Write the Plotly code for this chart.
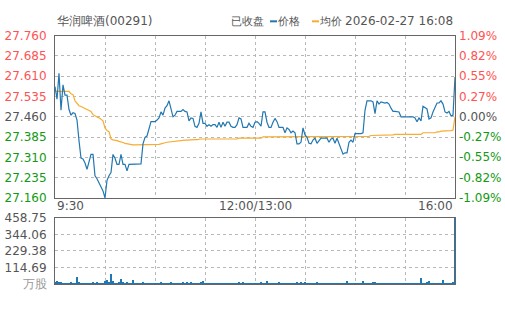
import plotly.graph_objects as go

# ---------------- data ----------------
title_text = "华润啤酒(00291)"
status_text = "已收盘"
price_name = "价格"
avg_name = "均价"
timestamp = "2026-02-27 16:08"
volume_unit = "万股"

prev_close = 27.46
price_ticks = [27.160, 27.235, 27.310, 27.385, 27.460, 27.535, 27.610, 27.685, 27.760]
volume_max = 458.75
x_tick_labels = ["9:30", "12:00/13:00", "16:00"]

prices = [
    27.572, 27.525, 27.621, 27.484, 27.578, 27.540, 27.540, 27.487, 27.466, 27.475,
    27.472, 27.448, 27.372, 27.307, 27.304, 27.289, 27.266, 27.295, 27.321, 27.321,
    27.242, 27.231, 27.216, 27.207, 27.186, 27.160, 27.225, 27.242, 27.254, 27.321,
    27.307, 27.284, 27.284, 27.321, 27.284, 27.284, 27.260, 27.284, 27.284, 27.284,
    27.284, 27.284, 27.284, 27.286, 27.360, 27.384, 27.389, 27.419, 27.442, 27.442,
    27.442, 27.448, 27.456, 27.478, 27.466, 27.492, 27.501, 27.519, 27.484, 27.460,
    27.466, 27.480, 27.480, 27.480, 27.487, 27.480, 27.478, 27.445, 27.456, 27.454,
    27.425, 27.421, 27.436, 27.478, 27.436, 27.436, 27.425, 27.431, 27.425, 27.431,
    27.431, 27.421, 27.440, 27.421, 27.440, 27.425, 27.440, 27.440, 27.425, 27.421,
    27.421, 27.431, 27.456, 27.452, 27.421, 27.421, 27.421, 27.436, 27.425, 27.421,
    27.440, 27.442, 27.436, 27.425, 27.478, 27.478, 27.440, 27.421, 27.421, 27.440,
    27.454, 27.442, 27.421, 27.421, 27.421, 27.401, 27.419, 27.413, 27.401, 27.407,
    27.401, 27.360, 27.360, 27.366, 27.419, 27.393, 27.384, 27.362, 27.360, 27.374,
    27.381, 27.362, 27.372, 27.381, 27.381, 27.381, 27.381, 27.366, 27.378, 27.381,
    27.362, 27.381, 27.360, 27.339, 27.322, 27.327, 27.327, 27.366, 27.374, 27.366,
    27.398, 27.398, 27.398, 27.398, 27.401, 27.484, 27.519, 27.519, 27.519, 27.515,
    27.472, 27.519, 27.507, 27.515, 27.513, 27.511, 27.513, 27.507, 27.492, 27.480,
    27.480, 27.480, 27.478, 27.460, 27.460, 27.460, 27.460, 27.460, 27.460, 27.460,
    27.456, 27.442, 27.456, 27.445, 27.499, 27.495, 27.489, 27.452, 27.456, 27.478,
    27.492, 27.511, 27.511, 27.519, 27.507, 27.478, 27.474, 27.480, 27.464, 27.466,
    27.607,
]

avg_prices = [
    27.554, 27.554, 27.554, 27.554, 27.554, 27.554, 27.554, 27.554, 27.545, 27.542,
    27.519, 27.509, 27.501, 27.498, 27.494, 27.491, 27.487, 27.484, 27.480, 27.468,
    27.462, 27.459, 27.456, 27.451, 27.445, 27.419, 27.409, 27.405, 27.378, 27.375,
    27.374, 27.372, 27.369, 27.368, 27.365, 27.362, 27.360, 27.359, 27.358, 27.356,
    27.356, 27.356, 27.356, 27.356, 27.356, 27.356, 27.356, 27.356, 27.356, 27.356,
    27.358, 27.358, 27.358, 27.360, 27.361, 27.364, 27.366, 27.367, 27.368, 27.369,
    27.371, 27.372, 27.373, 27.373, 27.374, 27.374, 27.374, 27.375, 27.375, 27.376,
    27.376, 27.376, 27.378, 27.378, 27.378, 27.378, 27.378, 27.378, 27.378, 27.378,
    27.378, 27.378, 27.378, 27.378, 27.378, 27.378, 27.378, 27.378, 27.378, 27.378,
    27.378, 27.378, 27.381, 27.381, 27.381, 27.381, 27.381, 27.381, 27.381, 27.381,
    27.381, 27.381, 27.381, 27.381, 27.386, 27.386, 27.386, 27.386, 27.386, 27.386,
    27.386, 27.386, 27.386, 27.388, 27.388, 27.388, 27.388, 27.388, 27.388, 27.388,
    27.388, 27.388, 27.388, 27.388, 27.388, 27.388, 27.388, 27.388, 27.388, 27.388,
    27.388, 27.388, 27.388, 27.388, 27.388, 27.388, 27.388, 27.388, 27.388, 27.388,
    27.388, 27.388, 27.388, 27.388, 27.388, 27.388, 27.388, 27.388, 27.388, 27.388,
    27.388, 27.388, 27.388, 27.388, 27.388, 27.388, 27.388, 27.388, 27.391, 27.391,
    27.391, 27.391, 27.393, 27.393, 27.393, 27.393, 27.393, 27.393, 27.393, 27.393,
    27.395, 27.395, 27.395, 27.395, 27.395, 27.395, 27.395, 27.395, 27.395, 27.395,
    27.395, 27.395, 27.395, 27.395, 27.401, 27.401, 27.401, 27.401, 27.401, 27.401,
    27.401, 27.404, 27.404, 27.407, 27.407, 27.407, 27.407, 27.407, 27.409, 27.411,
    27.460,
]

volumes = [
    15, 20, 14, 8, 5, 4, 6, 5, 10, 4,
    5, 50, 12, 6, 5, 4, 6, 5, 4, 14,
    5, 12, 5, 4, 6, 18, 26, 8, 66, 18,
    6, 5, 8, 33, 16, 5, 14, 5, 4, 24,
    5, 4, 5, 4, 12, 5, 4, 4, 5, 4,
    4, 5, 4, 10, 4, 4, 5, 4, 11, 4,
    4, 5, 4, 4, 10, 4, 9, 4, 10, 4,
    3, 4, 4, 16, 18, 4, 3, 3, 4, 3,
    3, 3, 4, 3, 3, 4, 3, 3, 3, 4,
    3, 3, 11, 4, 9, 3, 3, 3, 4, 3,
    3, 3, 4, 16, 3, 3, 22, 4, 3, 3,
    3, 3, 10, 3, 3, 3, 4, 3, 3, 3,
    3, 10, 3, 11, 3, 9, 3, 3, 3, 3,
    4, 10, 3, 3, 3, 4, 3, 3, 3, 3,
    4, 3, 3, 3, 3, 3, 22, 4, 3, 3,
    3, 3, 3, 3, 22, 4, 3, 3, 3, 12,
    16, 5, 3, 3, 4, 3, 3, 3, 4, 3,
    3, 3, 4, 3, 3, 3, 4, 3, 3, 3,
    3, 3, 4, 44, 5, 4, 12, 20, 4, 3,
    3, 4, 3, 3, 30, 4, 3, 3, 6, 10,
    458.75,
]

# ---------------- styling ----------------
W, H = 505, 310
FONT = "DejaVu Sans"
RED = "#ff5252"
GREEN = "#129a12"
GRAY = "#555555"
BLUE = "#2277b0"
ORANGE = "#f8ac30"
FRAME = "#666666"
GRID = "#b8b8b8"

n = len(prices)
x = list(range(n))
grid_x = [i * (n - 1) / 8 for i in range(9)]


def color_for(p):
    if abs(p - prev_close) < 1e-9:
        return GRAY
    return RED if p > prev_close else GREEN


left_text = [f"<span style='color:{color_for(p)}'>{p:.3f}</span>" for p in price_ticks]
pct_text = [f"{(p - prev_close) / prev_close * 100:.2f}%" for p in price_ticks]

vol_ticks = [volume_max * k / 4 for k in range(5)]
vol_text = [f"<span style='color:#999999'>{volume_unit}</span>"] + [f"{v:.2f}" for v in vol_ticks[1:]]

px_l, px_r = 55, 455
main_top, main_bot = 30, 200
vol_top, vol_bot = 221, 290
xdom = [px_l / W, px_r / W]

fig = go.Figure()
fig.add_trace(go.Scatter(x=x, y=avg_prices, mode="lines", line=dict(color=ORANGE, width=1.2),
                         xaxis="x", yaxis="y", showlegend=False))
fig.add_trace(go.Scatter(x=x, y=prices, mode="lines", line=dict(color=BLUE, width=1.2),
                         xaxis="x", yaxis="y", showlegend=False))
fig.add_trace(go.Bar(x=x, y=volumes, marker=dict(color=BLUE, line=dict(width=0)), width=0.7,
                     xaxis="x2", yaxis="y2", showlegend=False))

common_x = dict(range=[0, n - 1], tickvals=grid_x, showticklabels=False, ticks="",
                showgrid=True, gridcolor=GRID, griddash="dot", gridwidth=1,
                showline=True, linecolor=FRAME, linewidth=1, mirror=True,
                zeroline=False, domain=xdom)
common_y = dict(ticks="outside", ticklen=5, tickcolor="rgba(0,0,0,0)",
                showgrid=True, gridcolor=GRID, griddash="dot", gridwidth=1,
                showline=True, linecolor=FRAME, linewidth=1, mirror=True,
                zeroline=False, tickfont=dict(size=12, family=FONT, color=GRAY))

fig.update_layout(
    width=W, height=H,
    margin=dict(l=0, r=0, t=0, b=0),
    paper_bgcolor="white", plot_bgcolor="white",
    font=dict(family=FONT, size=12, color=GRAY),
    showlegend=False,
    bargap=0,
    xaxis=dict(**common_x, anchor="y"),
    yaxis=dict(**common_y, domain=[1 - main_bot / H, 1 - main_top / H],
               range=[price_ticks[0], price_ticks[-1]],
               tickvals=price_ticks, ticktext=left_text, anchor="x"),
    xaxis2=dict(**common_x, anchor="y2"),
    yaxis2=dict(**common_y, domain=[1 - vol_bot / H, 1 - vol_top / H], range=[0, volume_max],
                tickvals=vol_ticks, ticktext=vol_text, anchor="x2"),
)

anns = []
for p, t in zip(price_ticks, pct_text):
    anns.append(dict(x=457 / W, y=p, xref="paper", yref="y", text=t, showarrow=False,
                     xanchor="left", yanchor="middle",
                     font=dict(size=12, color=color_for(p), family=FONT)))

label_y = 1 - 199 / H
for lbl, xv, anchor in zip(x_tick_labels, [0, (n - 1) / 2, n - 1], ["left", "center", "right"]):
    anns.append(dict(x=xv, y=label_y, xref="x", yref="paper", text=lbl, showarrow=False,
                     xanchor=anchor, yanchor="top", font=dict(size=12, color=GRAY, family=FONT)))

hy = 1 - 15 / H
anns.append(dict(x=px_l / W, y=hy, xref="paper", yref="paper", text=title_text, showarrow=False,
                 xanchor="left", yanchor="middle", font=dict(size=12, color=GRAY, family=FONT)))
anns.append(dict(x=266 / W, y=hy, xref="paper", yref="paper", text=status_text, showarrow=False,
                 xanchor="right", yanchor="middle", font=dict(size=11, color=GRAY, family=FONT)))
anns.append(dict(x=302 / W, y=hy, xref="paper", yref="paper", text=price_name, showarrow=False,
                 xanchor="right", yanchor="middle", font=dict(size=11, color=GRAY, family=FONT)))
anns.append(dict(x=344 / W, y=hy, xref="paper", yref="paper", text=avg_name, showarrow=False,
                 xanchor="right", yanchor="middle", font=dict(size=11, color=GRAY, family=FONT)))
anns.append(dict(x=px_r / W, y=hy, xref="paper", yref="paper", text=timestamp, showarrow=False,
                 xanchor="right", yanchor="middle", font=dict(size=12, color=GRAY, family=FONT)))
fig.update_layout(annotations=anns)

shapes = [
    dict(type="line", xref="paper", yref="paper", x0=270 / W, x1=277 / W, y0=hy, y1=hy,
         line=dict(color=BLUE, width=2)),
    dict(type="line", xref="paper", yref="paper", x0=312 / W, x1=319 / W, y0=hy, y1=hy,
         line=dict(color=ORANGE, width=2)),
]
fig.update_layout(shapes=shapes)

fig.write_html("out.html")
